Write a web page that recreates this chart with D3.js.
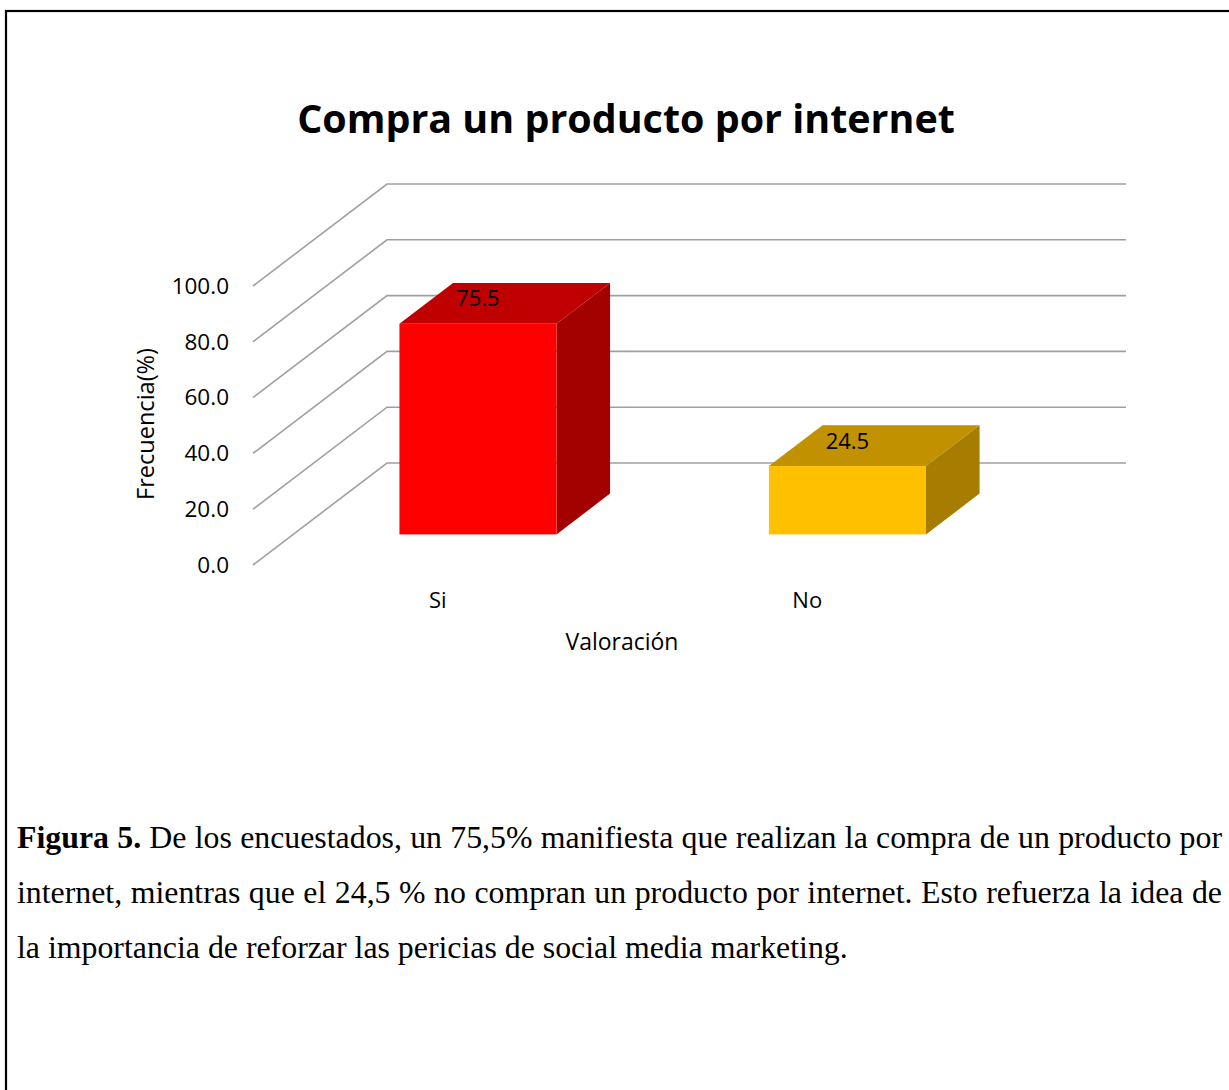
<!DOCTYPE html>
<html>
<head>
<meta charset="utf-8">
<script src="https://cdn.jsdelivr.net/npm/d3@7"></script>
<style>
  html, body { margin: 0; padding: 0; background: #fff; overflow: hidden; }
  svg { display: block; }
</style>
</head>
<body>
<svg id="chart" width="1229" height="1090"></svg>
<script>
// data
const categories = ["Si", "No"];
const values = [75.5, 24.5];
const yTicks = [0, 20, 40, 60, 80, 100];
const frontColors = ["#ff0000", "#ffc000"];
const topColors = ["#c00000", "#c19100"];
const sideColors = ["#a30000", "#a67d00"];

const title = "Compra un producto por internet";
const yTitle = "Frecuencia(%)";
const xTitle = "Valoración";
const captionLines = [
  ["Figura 5.", " De los encuestados, un 75,5% manifiesta que realizan la compra de un producto por"],
  ["", "internet, mientras que el 24,5 % no compran un producto por internet. Esto refuerza la idea de"],
  ["", "la importancia de reforzar las pericias de social media marketing."]
];

const svg = d3.select("#chart");
const sans = "'Open Sans', 'Noto Sans', sans-serif";

// scale text so its natural width equals w
function fitWidth(sel, w) {
  let fs = parseFloat(sel.attr("font-size"));
  let len = sel.node().getComputedTextLength();
  sel.attr("font-size", fs * w / len);
}

// page border
svg.append("rect")
  .attr("x", 6).attr("y", 11)
  .attr("width", 1300).attr("height", 1200)
  .attr("fill", "none").attr("stroke", "#000").attr("stroke-width", 2.2);

// title
const t = svg.append("text")
  .attr("x", 626).attr("y", 133)
  .attr("text-anchor", "middle")
  .attr("font-family", sans).attr("font-weight", "bold")
  .attr("font-size", 40)
  .attr("fill", "#000")
  .text(title);
fitWidth(t, 658);

// 3d geometry: front plane scales plus a depth vector
const left = 253, right = 992;
const depth = [134, -102];
const barD0 = 0.3, barD1 = 0.7;

const y = d3.scaleLinear().domain([0, 100]).range([565, 286]);
const x = d3.scaleBand().domain(categories).range([left, right])
  .paddingInner(0.575).paddingOuter(0.2875);

// gridlines: left wall diagonal + back wall horizontal
const grid = svg.append("g");
yTicks.forEach(v => {
  const y0 = y(v);
  grid.append("path")
    .attr("d", d3.line()([[left, y0], [left + depth[0], y0 + depth[1]], [right + depth[0], y0 + depth[1]]]))
    .attr("fill", "none")
    .attr("stroke", "#a0a0a0")
    .attr("stroke-width", 1.6);
});

// tick labels
svg.append("g").selectAll("text")
  .data(yTicks)
  .join("text")
  .attr("x", 229)
  .attr("y", d => y(d))
  .attr("dy", "0.35em")
  .attr("text-anchor", "end")
  .attr("font-family", sans)
  .attr("font-size", 22.5)
  .attr("fill", "#000")
  .text(d => d3.format(".1f")(d));

// bars
const bars = svg.append("g");
categories.forEach((c, i) => {
  const dx0 = depth[0] * barD0, dy0 = depth[1] * barD0;
  const dx1 = depth[0] * barD1, dy1 = depth[1] * barD1;
  const xl = x(c) + dx0, xr = x(c) + x.bandwidth() + dx0;
  const yb = y(0) + dy0, yt = y(values[i]) + dy0;
  const ddx = dx1 - dx0, ddy = dy1 - dy0;
  const line = d3.line();

  bars.append("path")
    .attr("d", line([[xl, yt], [xr, yt], [xr + ddx, yt + ddy], [xl + ddx, yt + ddy]]) + "Z")
    .attr("fill", topColors[i]);
  bars.append("path")
    .attr("d", line([[xr, yt], [xr + ddx, yt + ddy], [xr + ddx, yb + ddy], [xr, yb]]) + "Z")
    .attr("fill", sideColors[i]);
  bars.append("rect")
    .attr("x", xl).attr("y", yt)
    .attr("width", x.bandwidth()).attr("height", yb - yt)
    .attr("fill", frontColors[i]);

  bars.append("text")
    .attr("x", (xl + xr) / 2)
    .attr("y", yt - 25)
    .attr("dy", "0.35em")
    .attr("text-anchor", "middle")
    .attr("font-family", sans)
    .attr("font-size", 22)
    .attr("fill", "#000")
    .text(d3.format(".1f")(values[i]));
});

// category labels
svg.append("g").selectAll("text")
  .data(categories)
  .join("text")
  .attr("x", d => x(d) + x.bandwidth() / 2)
  .attr("y", 600)
  .attr("dy", "0.35em")
  .attr("text-anchor", "middle")
  .attr("font-family", sans)
  .attr("font-size", 22)
  .attr("fill", "#000")
  .text(d => d);

// axis titles
const xt = svg.append("text")
  .attr("x", 622).attr("y", 642)
  .attr("dy", "0.35em")
  .attr("text-anchor", "middle")
  .attr("font-family", sans).attr("font-size", 20)
  .attr("fill", "#000")
  .text(xTitle);
fitWidth(xt, 113);

const yt = svg.append("text")
  .attr("transform", "translate(146,424) rotate(-90)")
  .attr("dy", "0.35em")
  .attr("text-anchor", "middle")
  .attr("font-family", sans).attr("font-size", 20)
  .attr("fill", "#000")
  .text(yTitle);
fitWidth(yt, 152);

// caption, justified like the document text
const serif = "'Liberation Serif', 'Times New Roman', serif";
const capX = 17, capRight = 1222;
const baselines = [848, 903, 958];
const cap = svg.append("g").attr("font-family", serif).attr("fill", "#000");

// size from last (unjustified) line
const probe = cap.append("text").attr("font-size", 26).text(captionLines[2][1]);
fitWidth(probe, 831);
const capSize = parseFloat(probe.attr("font-size"));
probe.remove();

captionLines.forEach((ln, i) => {
  const tx = cap.append("text")
    .attr("x", capX).attr("y", baselines[i])
    .attr("font-size", capSize)
    .attr("xml:space", "preserve");
  if (ln[0]) tx.append("tspan").attr("font-weight", "bold").text(ln[0]);
  tx.append("tspan").text(ln[1]);
  if (i < 2) {
    const full = ln[0] + ln[1];
    const spaces = (full.match(/ /g) || []).length;
    const len = tx.node().getComputedTextLength();
    tx.attr("word-spacing", (capRight - capX - len) / spaces);
  }
});
</script>
</body>
</html>
